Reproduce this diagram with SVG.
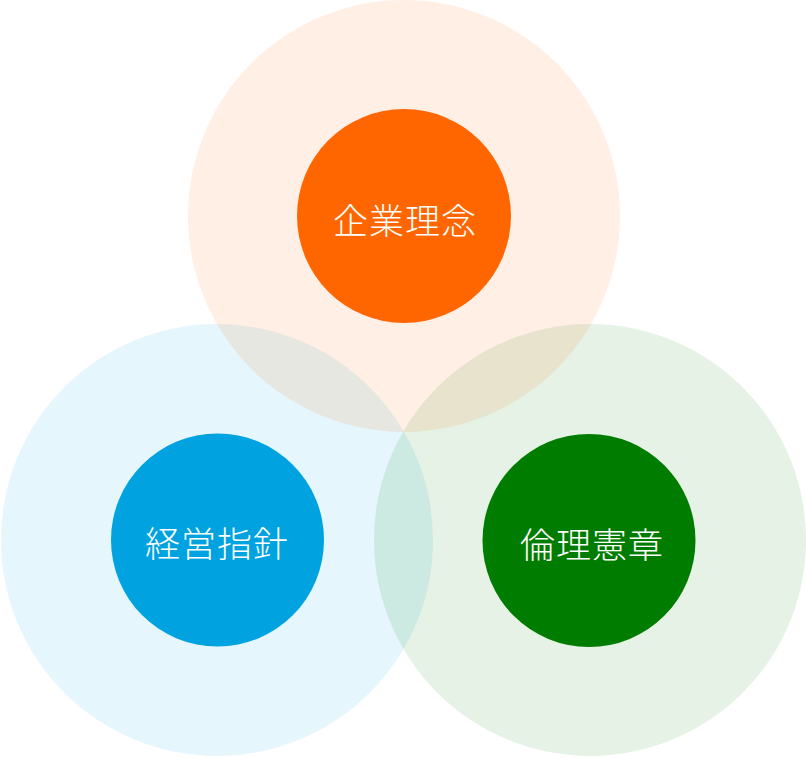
<svg xmlns="http://www.w3.org/2000/svg" width="806" height="758" viewBox="0 0 806 758">
<style>
.big{fill-opacity:0.1}
.lbl{font-family:"Noto Sans CJK JP","Noto Sans CJK SC",sans-serif;font-size:35px;font-weight:300;fill:#ffffff;text-anchor:middle;dominant-baseline:central;letter-spacing:1px}
</style>
<rect width="806" height="758" fill="#ffffff"/>
<g id="backgrounds">
<circle class="big" cx="217" cy="540" r="216" fill="#00A3DF"/>
<circle class="big" cx="590" cy="540" r="216" fill="#007D00"/>
<circle class="big" cx="404" cy="216" r="216" fill="#FF6600"/>
</g>
<g id="node-kigyo-rinen">
<circle cx="404" cy="216" r="107" fill="#FF6600"/>
<text class="lbl" x="405" y="218">企業理念</text>
</g>
<g id="node-keiei-shishin">
<circle cx="217.5" cy="540" r="106.5" fill="#00A3DF"/>
<text class="lbl" x="217" y="541">経営指針</text>
</g>
<g id="node-rinri-kensho">
<circle cx="589" cy="540.5" r="106.5" fill="#007D00"/>
<text class="lbl" x="592" y="542">倫理憲章</text>
</g>
<g id="connectors"></g>
</svg>
